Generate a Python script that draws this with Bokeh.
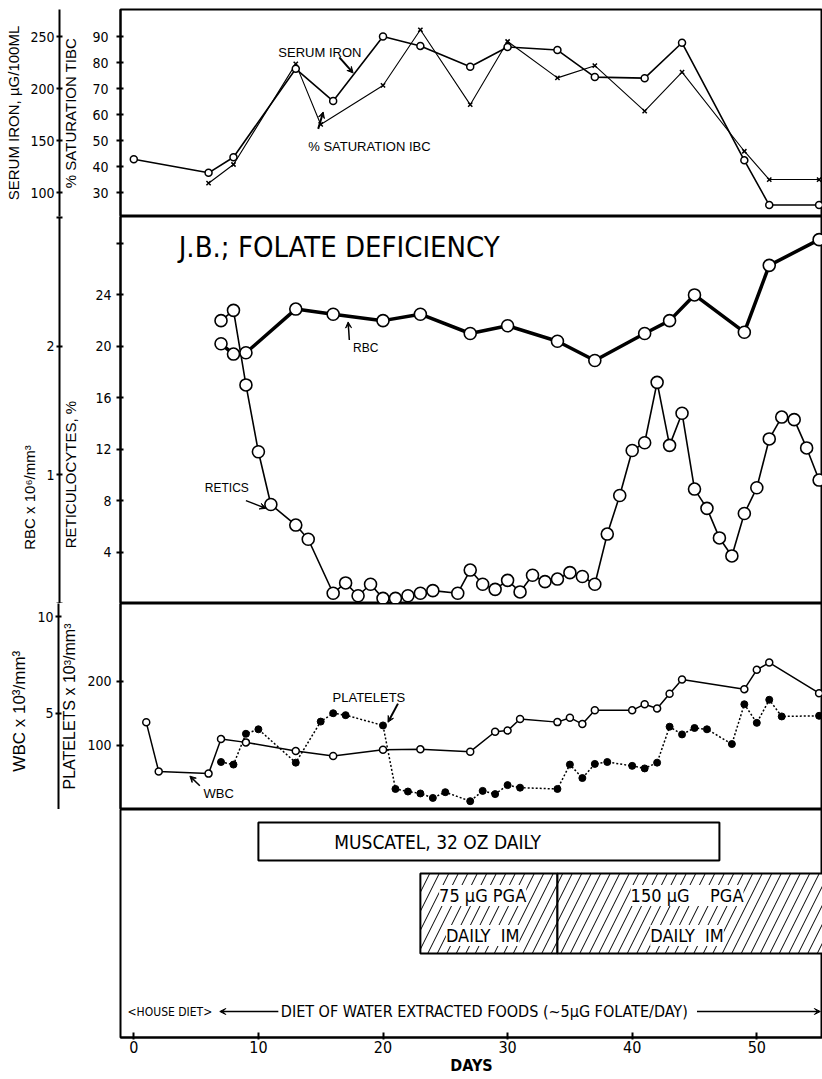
from bokeh.plotting import figure
from bokeh.models import Range1d, LinearAxis, FixedTicker, Arrow, VeeHead, Text
from bokeh.layouts import column
from bokeh.embed import file_html
from bokeh.resources import INLINE
from bokeh.core.properties import value

# ---------------- data ----------------
iron_days = [0, 6, 8, 13, 16, 20, 23, 27, 30, 34, 37, 41, 44, 49, 51, 55]
iron_vals = [132, 119, 134, 219, 188, 250, 241, 221, 240, 237, 211, 210, 244, 131, 88, 88]

sat_days = [6, 8, 13, 15, 20, 23, 27, 30, 34, 37, 41, 44, 49, 51, 55]
sat_vals = [33.6, 40.8, 79.5, 56.2, 71.2, 92.6, 63.8, 88.1, 74.1, 78.8, 61.3, 76.3, 45.9, 35.0, 35.0]

rbc_days = [7, 8, 9, 13, 16, 20, 23, 27, 30, 34, 37, 41, 43, 45, 49, 51, 55]
rbc_vals = [2.02, 1.94, 1.95, 2.29, 2.25, 2.20, 2.25, 2.10, 2.16, 2.04, 1.89, 2.10, 2.20, 2.40, 2.11, 2.63, 2.83]

retic_days = [7, 8, 9, 10, 11, 13, 14, 16, 17, 18, 19, 20, 21, 22, 23, 24, 26, 27, 28, 29, 30,
              31, 32, 33, 34, 35, 36, 37, 38, 39, 40, 41, 42, 43, 44, 45, 46, 47, 48, 49, 50,
              51, 52, 53, 54, 55]
retic_vals = [22.0, 22.8, 17.0, 11.8, 7.7, 6.1, 5.0, 0.8, 1.6, 0.6, 1.5, 0.4, 0.4, 0.6, 0.8, 1.0,
              0.8, 2.6, 1.5, 1.1, 1.8, 0.9, 2.2, 1.7, 1.9, 2.4, 2.1, 1.5, 5.4, 8.4, 11.9, 12.5,
              17.2, 12.3, 14.8, 8.9, 7.4, 5.1, 3.7, 7.0, 9.0, 12.8, 14.5, 14.3, 12.1, 9.6]

wbc_days = [1, 2, 6, 7, 9, 13, 16, 20, 23, 27, 29, 30, 31, 34, 35, 36, 37, 40, 41, 42, 43, 44,
            49, 50, 51, 55]
wbc_vals = [4.52, 1.97, 1.86, 3.65, 3.48, 3.03, 2.77, 3.10, 3.12, 3.0, 4.03, 4.09, 4.69, 4.53,
            4.76, 4.43, 5.14, 5.14, 5.46, 5.24, 6.0, 6.74, 6.24, 7.24, 7.62, 6.03]

plt_days = [7, 8, 9, 10, 13, 15, 16, 17, 20, 21, 22, 23, 24, 25, 27, 28, 29, 30, 31, 34, 35, 36,
            37, 38, 40, 41, 42, 43, 44, 45, 46, 48, 49, 50, 51, 52, 55]
plt_vals = [74, 70, 118, 125, 73, 137, 150, 147, 131, 32, 28, 25, 18, 27, 13, 29, 24, 38, 34, 32,
            70, 49, 71, 74, 68, 64, 73, 129, 117, 127, 125, 102, 164, 135, 171, 145, 146]

muscatel_start = [10]
muscatel_end = [47]
pga_start = [23, 34]
pga_end = [34, 58]
pga_line1 = ["75 µG PGA", "150 µG\u00a0\u00a0\u00a0 PGA"]
pga_line2 = ["DAILY\u00a0 IM", "DAILY\u00a0 IM"]
pga_text_x = [28.0, 44.4]

day_ticks = [0, 10, 20, 30, 40, 50]
sat_ticks = [30, 40, 50, 60, 70, 80, 90]
iron_ticks = [100, 150, 200, 250]
retic_ticks = [4, 8, 12, 16, 20, 24, 28]
rbc_ticks = [0, 1, 2, 3]
plt_ticks = [100, 200]
wbc_ticks = [5, 10]

# ---------------- style ----------------
FONT = "Liberation Sans"
NARROW = "DejaVu Sans Condensed, Roboto"
W = 822
LEFT = 120
PX_PER_DAY = 12.46
X0 = -13.3 / PX_PER_DAY
xr = Range1d(X0, X0 + (W - LEFT) / PX_PER_DAY)
HAS_BG = "background_fill_color" in Text.properties()
NB = "\u00a0"


def base_fig(h, yr, top=0, bottom=0, x_axis=False, y_axis=True):
    p = figure(width=W, height=h, x_range=xr, y_range=yr, output_backend="svg",
               toolbar_location=None, tools="",
               x_axis_location="below" if x_axis else None,
               y_axis_location="left" if y_axis else None,
               min_border_left=LEFT, min_border_right=0,
               min_border_top=top, min_border_bottom=bottom)
    p.grid.visible = False
    p.outline_line_color = "black"
    p.outline_line_width = 2
    p.background_fill_color = "white"
    p.border_fill_color = "white"
    return p


def style_axis(ax, ticks, label, tick_out, standoff, label_standoff, overrides=None, lsize="15px"):
    ax.ticker = FixedTicker(ticks=ticks)
    ax.minor_tick_line_color = None
    ax.major_tick_out = tick_out
    ax.major_tick_in = 3
    ax.major_tick_line_width = 2
    ax.axis_line_width = 2
    ax.major_label_standoff = standoff
    ax.major_label_text_font = NARROW
    ax.major_label_text_font_size = "14px"
    ax.major_label_text_color = "black"
    ax.axis_label = label
    ax.axis_label_standoff = label_standoff
    ax.axis_label_text_font = FONT
    ax.axis_label_text_font_size = lsize
    ax.axis_label_text_font_style = "normal"
    ax.axis_label_text_color = "black"
    if overrides:
        ax.major_label_overrides = overrides


def add_text(p, x, y, txt, size="13px", font=FONT, align="left", bg=False, **kw):
    extra = {}
    if bg and HAS_BG:
        extra = dict(background_fill_color="white")
    p.text(x=x, y=y, text=txt, text_font=value(font), text_font_size=size,
           text_align=align, text_baseline="middle", text_color="black", **extra, **kw)


def arrow(p, xs, ys, xe, ye, lw=2, **kw):
    p.add_layout(Arrow(end=VeeHead(size=6, line_width=1, fill_color="black"),
                       x_start=xs, y_start=ys, x_end=xe, y_end=ye, line_width=lw, **kw))


# ---------------- panel 1: serum iron / saturation ----------------
p1 = base_fig(216, Range1d(20.8, 100.4), top=9)
p1.extra_y_ranges = {"iron": Range1d(77, 276)}
style_axis(p1.yaxis[0], sat_ticks, "% SATURATION TIBC", 4, 8, 10)
ax_iron = LinearAxis(y_range_name="iron")
style_axis(ax_iron, iron_ticks, "SERUM IRON, µG/100ML", 3, 2, 5)
p1.add_layout(ax_iron, "left")

p1.line(sat_days, sat_vals, line_color="black", line_width=1.1)
p1.scatter(sat_days, sat_vals, marker="x", size=6, line_color="black", line_width=1.5)
p1.line(iron_days, iron_vals, y_range_name="iron", line_color="black", line_width=1.6)
p1.scatter(iron_days, iron_vals, y_range_name="iron", marker="circle", size=7,
           fill_color="white", line_color="black", line_width=1.5)
add_text(p1, [11.6], [83.8], ["SERUM IRON"])
arrow(p1, 16.5, 82.0, 17.6, 76.0)
add_text(p1, [14.0], [47.7], ["% SATURATION IBC"])
arrow(p1, 14.8, 54.5, 15.2, 61.0)

# ---------------- panel 2: RBC / reticulocytes ----------------
p2 = base_fig(387, Range1d(0, 30.1))
p2.extra_y_ranges = {"rbc": Range1d(0, 3.01)}
style_axis(p2.yaxis[0], retic_ticks, "RETICULOCYTES, %" + NB * 31, 4, 5, 13, {28: ""})
ax_rbc = LinearAxis(y_range_name="rbc")
style_axis(ax_rbc, rbc_ticks, "RBC x 10⁶/mm³" + NB * 42, 3, 2, 5, {0: "", 3: ""})
p2.add_layout(ax_rbc, "left")

p2.line(retic_days, retic_vals, line_color="black", line_width=1.6)
p2.line(rbc_days, rbc_vals, y_range_name="rbc", line_color="black", line_width=3.5)
p2.scatter(retic_days, retic_vals, marker="circle", size=12, fill_color="white",
           line_color="black", line_width=1.6)
p2.scatter(rbc_days, rbc_vals, y_range_name="rbc", marker="circle", size=12,
           fill_color="white", line_color="black", line_width=1.6)
add_text(p2, [3.6], [27.7], ["J.B.; FOLATE DEFICIENCY"], size="29px", font=NARROW)
add_text(p2, [17.6], [19.9], ["RBC"], size="12px")
arrow(p2, 17.3, 20.5, 17.2, 21.9, lw=1.5)
add_text(p2, [5.7], [9.0], ["RETICS"], size="12px")
arrow(p2, 9.0, 8.0, 10.6, 7.4, lw=1.5)

# ---------------- panel 3: WBC / platelets ----------------
p3 = base_fig(206, Range1d(0, 321))
p3.extra_y_ranges = {"wbc": Range1d(0, 10.68)}
style_axis(p3.yaxis[0], plt_ticks, "PLATELETS x 10³/mm³", 4, 5, 6, lsize="16px")
ax_wbc = LinearAxis(y_range_name="wbc")
style_axis(ax_wbc, wbc_ticks, "WBC  x  10³/mm³", 3, 2, 5, lsize="17px")
p3.add_layout(ax_wbc, "left")

p3.line(plt_days, plt_vals, line_color="black", line_width=1.5, line_dash="2 2")
p3.scatter(plt_days, plt_vals, marker="circle", size=7, fill_color="black", line_color="black")
p3.line(wbc_days, wbc_vals, y_range_name="wbc", line_color="black", line_width=1.5)
p3.scatter(wbc_days, wbc_vals, y_range_name="wbc", marker="circle", size=7,
           fill_color="white", line_color="black", line_width=1.5)
add_text(p3, [15.95], [174], ["PLATELETS"], size="13px")
arrow(p3, 21.2, 165, 20.4, 136)
add_text(p3, [5.6], [25], ["WBC"], size="13px")
arrow(p3, 5.3, 37, 4.5, 52, lw=1.5)

# ---------------- panel 4: treatments ----------------
p4 = base_fig(270, Range1d(0, 228), bottom=42, x_axis=True, y_axis=False)
xa = p4.xaxis[0]
xa.ticker = FixedTicker(ticks=day_ticks)
xa.minor_tick_line_color = None
xa.major_tick_in = 5
xa.major_tick_out = 2
xa.major_tick_line_width = 2
xa.axis_line_width = 2
xa.major_label_standoff = 1
xa.major_label_text_font = NARROW
xa.major_label_text_font_size = "16px"
xa.major_label_text_color = "black"
xa.axis_label = "DAYS"
xa.axis_label_standoff = 0
xa.axis_label_text_font = NARROW
xa.axis_label_text_font_size = "16px"
xa.axis_label_text_font_style = "bold"
xa.axis_label_text_color = "black"

p4.quad(left=muscatel_start, right=muscatel_end, bottom=177, top=215,
        fill_color="white", line_color="black", line_width=2)
add_text(p4, [(muscatel_start[0] + muscatel_end[0]) / 2 - 3.9], [196],
         ["MUSCATEL,  32 OZ DAILY"], size="19px", font=NARROW, align="center")
p4.quad(left=pga_start, right=pga_end, bottom=84, top=164, fill_color="white",
        line_color="black", line_width=2, hatch_pattern="/", hatch_scale=19,
        hatch_weight=1.0, hatch_color="black")
add_text(p4, pga_text_x, [142, 142], pga_line1, size="18px", font=NARROW, align="center", bg=True)
add_text(p4, pga_text_x, [102, 102], pga_line2, size="18px", font=NARROW, align="center", bg=True)

add_text(p4, [-0.5], [26], ["<HOUSE DIET>"], size="12px", font=NARROW)
arrow(p4, 11.6, 26, 6.9, 26, lw=1.5)
add_text(p4, [11.8], [26], ["DIET OF WATER EXTRACTED FOODS (~5µG FOLATE/DAY)"], size="16px", font=NARROW)
arrow(p4, 45.2, 26, 55.1, 26, lw=1.5)

layout = column(p1, p2, p3, p4, spacing=0)
open("out.html", "w").write(file_html(layout, INLINE))
